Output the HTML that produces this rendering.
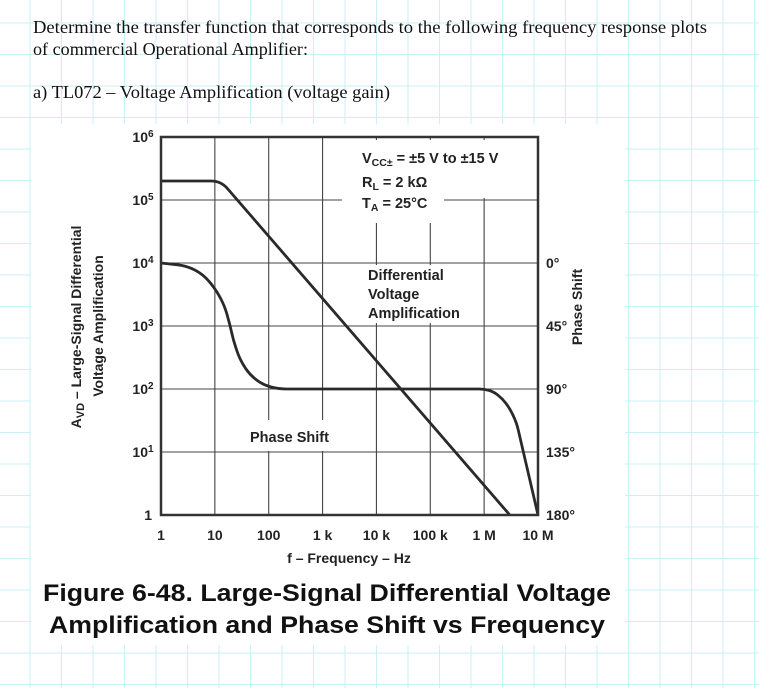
<!DOCTYPE html>
<html><head><meta charset="utf-8"><style>
html,body{margin:0;padding:0;background:#fff;}
svg{display:block;}
</style></head><body>
<svg id="root" width="759" height="688" viewBox="0 0 759 688" xmlns="http://www.w3.org/2000/svg">
  <g id="paper"></g>
  <rect x="31" y="124" width="594" height="521" fill="#fff"/>
  <g font-family="'Liberation Serif', serif" font-size="17.5" fill="#111">
    <text x="33" y="33" textLength="674" lengthAdjust="spacingAndGlyphs">Determine the transfer function that corresponds to the following frequency response plots</text>
    <text x="33" y="55" textLength="275" lengthAdjust="spacingAndGlyphs">of commercial Operational Amplifier:</text>
    <text x="33" y="98" textLength="357" lengthAdjust="spacingAndGlyphs">a)   TL072 – Voltage Amplification (voltage gain)</text>
  </g>
  <g id="grid"></g>
  <g fill="#fff">
    <rect x="342" y="140" width="193" height="58"/>
    <rect x="342" y="196" width="102" height="27"/>
    <rect x="360" y="265" width="102" height="58"/>
    <rect x="245" y="420" width="102" height="31"/>
  </g>
  <g id="series"></g>
  <rect x="161" y="137" width="377" height="378" fill="none" stroke="#333" stroke-width="2.5"/>
  <g id="labels" font-family="'Liberation Sans', sans-serif" font-weight="bold" fill="#222"></g>
  <g font-family="'Liberation Sans', sans-serif" font-weight="bold" fill="#222" font-size="14.5">
    <text x="362" y="163">V<tspan font-size="10.5" dy="3">CC±</tspan><tspan dy="-3"> = ±5 V to ±15 V</tspan></text>
    <text x="362" y="187">R<tspan font-size="10.5" dy="3">L</tspan><tspan dy="-3"> = 2 kΩ</tspan></text>
    <text x="362" y="208">T<tspan font-size="10.5" dy="3">A</tspan><tspan dy="-3"> = 25°C</tspan></text>
    <text x="368" y="280">Differential</text>
    <text x="368" y="299">Voltage</text>
    <text x="368" y="318">Amplification</text>
    <text x="250" y="442">Phase Shift</text>
  </g>
  <g font-family="'Liberation Sans', sans-serif" font-weight="bold" fill="#111" font-size="24">
    <text x="43" y="601" textLength="568" lengthAdjust="spacingAndGlyphs">Figure 6-48. Large-Signal Differential Voltage</text>
    <text x="49" y="633" textLength="556" lengthAdjust="spacingAndGlyphs">Amplification and Phase Shift vs Frequency</text>
  </g>
</svg>
<script>
const gainFreqs = [1, 13, 3000000];
const gainValues = [200000, 200000, 1];
const phaseFreqs = [1, 3, 6, 10, 15, 19, 22, 29, 45, 78, 150, 1000000, 1500000, 2200000, 3000000, 4000000, 10000000];
const phaseDegrees = [0, 2, 8, 18, 30, 44, 55, 69, 80, 87, 90, 90, 92, 97, 104, 114, 180];
const xTickLabels = ["1", "10", "100", "1 k", "10 k", "100 k", "1 M", "10 M"];
const yTickExps = [6, 5, 4, 3, 2, 1, 0];
const phaseTickLabels = ["0°", "45°", "90°", "135°", "180°"];

const NS = "http://www.w3.org/2000/svg";
const X0 = 161, X1 = 538, Y0 = 137, Y1 = 515;
const xScale = f => X0 + Math.log10(f) / 7 * (X1 - X0);
const yGain = v => Y1 - Math.log10(v) / 6 * (Y1 - Y0);
const yPhase = d => yGain(10000) + d / 45 * (Y1 - Y0) / 6;
function mk(tag, attrs, parent) {
  const e = document.createElementNS(NS, tag);
  for (const k in attrs) e.setAttribute(k, attrs[k]);
  parent.appendChild(e);
  return e;
}
function roundedPath(pts, rMax) {
  let s = 'M' + pts[0][0].toFixed(1) + ' ' + pts[0][1].toFixed(1);
  for (let i = 1; i < pts.length - 1; i++) {
    const a = pts[i - 1], b = pts[i], c = pts[i + 1];
    const l1 = Math.hypot(b[0] - a[0], b[1] - a[1]), l2 = Math.hypot(c[0] - b[0], c[1] - b[1]);
    const r = Math.min(rMax, l1 / 2, l2 / 2);
    const p = [b[0] - (b[0] - a[0]) / l1 * r, b[1] - (b[1] - a[1]) / l1 * r];
    const q = [b[0] + (c[0] - b[0]) / l2 * r, b[1] + (c[1] - b[1]) / l2 * r];
    s += ' L' + p[0].toFixed(1) + ' ' + p[1].toFixed(1) + ' Q' + b[0].toFixed(1) + ' ' + b[1].toFixed(1) + ' ' + q[0].toFixed(1) + ' ' + q[1].toFixed(1);
  }
  const e = pts[pts.length - 1];
  return s + ' L' + e[0].toFixed(1) + ' ' + e[1].toFixed(1);
}
const paper = document.getElementById('paper');
for (let x = 30 - 31.5; x < 759; x += 31.5) {
  const l = mk('line', {x1: x, y1: 0, x2: x, y2: 688, stroke: '#c9f1f7', 'stroke-width': 1}, paper);
  
  
}
for (let y = 23 - 31.5; y < 688; y += 31.5) {
  const l = mk('line', {x1: 0, y1: y, x2: 759, y2: y, stroke: '#c9f1f7', 'stroke-width': 1}, paper);
  
  
}
const grid = document.getElementById('grid');
for (let i = 1; i < 7; i++) {
  const x = xScale(Math.pow(10, i));
  const l = mk('line', {x1: x, y1: Y0, x2: x, y2: Y1, stroke: '#444', 'stroke-width': 1.1}, grid);
  
  
}
for (let i = 1; i < 6; i++) {
  const y = yGain(Math.pow(10, i));
  const l = mk('line', {x1: X0, y1: y, x2: X1, y2: y, stroke: '#444', 'stroke-width': 1.1}, grid);
  
  
}
const series = document.getElementById('series');
const gp = mk('path', {d: roundedPath(gainFreqs.map((f, i) => [xScale(f), yGain(gainValues[i])]), 10), fill: 'none', stroke: '#2a2a2a', 'stroke-width': 2.8, 'stroke-linejoin': 'round'}, series);


const pp = mk('path', {d: roundedPath(phaseFreqs.map((f, i) => [xScale(f), yPhase(phaseDegrees[i])]), 10), fill: 'none', stroke: '#2a2a2a', 'stroke-width': 2.8, 'stroke-linejoin': 'round'}, series);


const labels = document.getElementById('labels');
xTickLabels.forEach((t, i) => {
  const e = mk('text', {x: xScale(Math.pow(10, i)), y: 540, 'text-anchor': 'middle', 'font-size': 14}, labels);
  e.textContent = t;
  
  
});
yTickExps.forEach(p => {
  const y = yGain(Math.pow(10, p));
  const e = mk('text', {x: p === 0 ? 152 : 143, y: y + 5, 'text-anchor': p === 0 ? 'end' : 'middle', 'font-size': 14}, labels);
  if (p === 0) { e.textContent = '1'; }
  else {
    e.textContent = '10';
    const s = mk('tspan', {'font-size': 10, dy: -5}, e);
    s.textContent = String(p);
  }
  
  
});
phaseTickLabels.forEach((t, i) => {
  const e = mk('text', {x: 546, y: yPhase(i * 45) + 5, 'font-size': 14}, labels);
  e.textContent = t;
  
  
});
const xt = mk('text', {x: 349, y: 563, 'text-anchor': 'middle', 'font-size': 14}, labels);
xt.textContent = 'f – Frequency – Hz';


const yt1 = mk('text', {x: 0, y: 0, 'text-anchor': 'middle', 'font-size': 14, transform: 'translate(81 327) rotate(-90)'}, labels);
yt1.textContent = 'A';
const sub = mk('tspan', {'font-size': 11, dy: 3}, yt1);
sub.textContent = 'VD';
const rest = mk('tspan', {dy: -3}, yt1);
rest.textContent = ' – Large-Signal Differential';


const yt2 = mk('text', {x: 0, y: 0, 'text-anchor': 'middle', 'font-size': 14, transform: 'translate(103 326) rotate(-90)'}, labels);
yt2.textContent = 'Voltage Amplification';


const pt = mk('text', {x: 0, y: 0, 'text-anchor': 'middle', 'font-size': 14, transform: 'translate(582 307) rotate(-90)'}, labels);
pt.textContent = 'Phase Shift';


</script>
</body></html>
